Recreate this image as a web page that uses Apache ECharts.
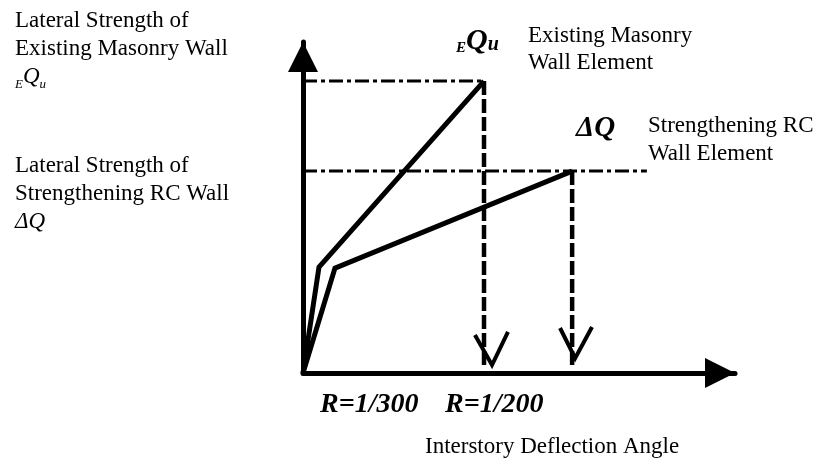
<!DOCTYPE html>
<html>
<head>
<meta charset="utf-8">
<script src="https://cdn.jsdelivr.net/npm/echarts@6/dist/echarts.min.js"></script>
<style>
html, body { margin: 0; padding: 0; background: #fff; }
#chart { width: 822px; height: 461px; }
</style>
</head>
<body>
<div id="chart"></div>
<script>
// curves: [drift, strength] in chart units (0..100)
var masonryCurve = [[0, 0], [3.7, 32.0], [41.9, 88.2]]
var rcCurve = [[0, 0], [7.4, 31.7], [62.3, 61.0]]
// strength levels: EQu and dQ
var strengthLevels = [88.2, 61.0]
var levelEnds = [41.9, 79.6]
// drift limits R=1/300, R=1/200
var driftLimits = [41.9, 62.3]
var limitBottoms = [1.5, 2.1]
// open arrow heads on the drift limit lines
var arrowHead1 = [[39.8, 11.5], [43.75, 2.4], [47.45, 12.4]]
var arrowHead2 = [[59.5, 13.6], [63.0, 4.5], [66.9, 13.9]]

var chart = echarts.init(document.getElementById('chart'))
var serif = 'Liberation Serif'

function lineSeries (data, width, type) {
  return {
    type: 'line',
    data: data,
    symbol: 'none',
    silent: true,
    animation: false,
    lineStyle: { color: '#000', width: width, type: type || 'solid', cap: 'butt', join: 'miter' }
  }
}

var series = []
// horizontal dash-dot levels
strengthLevels.forEach(function (v, i) {
  series.push(lineSeries([[0, v], [levelEnds[i], v]], 3, [14, 4, 4, 4]))
})
// vertical dashed lines at the drift limits
driftLimits.forEach(function (v, i) {
  series.push(lineSeries([[v, strengthLevels[i]], [v, limitBottoms[i]]], 4.5, [14, 4]))
})
series.push(lineSeries(masonryCurve, 5))
series.push(lineSeries(rcCurve, 5))
series.push(lineSeries(arrowHead1, 4))
series.push(lineSeries(arrowHead2, 4))

var axisCommon = {
  type: 'value',
  min: 0,
  max: 100,
  axisLabel: { show: false },
  axisTick: { show: false },
  splitLine: { show: false },
  axisLine: {
    show: true,
    onZero: false,
    symbol: ['none', 'triangle'],
    symbolSize: [30, 30],
    symbolOffset: [0, -15],
    lineStyle: { color: '#000', width: 5 }
  }
}

chart.setOption({
  backgroundColor: '#fff',
  animation: false,
  grid: { left: 303, right: 87, top: 42, bottom: 88 },
  xAxis: axisCommon,
  yAxis: axisCommon,
  series: series,
  graphic: [
    {
      type: 'text', left: 15, top: 7,
      style: {
        text: 'Lateral Strength of\nExisting Masonry Wall\n{s|E}{q|Q}{s|u}',
        font: '23px ' + serif, fill: '#000', lineHeight: 28,
        rich: {
          s: { font: 'italic 13px ' + serif, verticalAlign: 'bottom', padding: [9, 0, 0, 0] },
          q: { font: 'italic 23px ' + serif }
        }
      }
    },
    {
      type: 'text', left: 15, top: 152,
      style: {
        text: 'Lateral Strength of\nStrengthening RC Wall\n{i|\u0394Q}',
        font: '23px ' + serif, fill: '#000', lineHeight: 28,
        rich: { i: { font: 'italic 23px ' + serif } }
      }
    },
    {
      type: 'text', left: 456, top: 26,
      style: {
        text: '{s|E}{q|Q}{u|u}',
        fill: '#000',
        rich: {
          s: { font: 'bold italic 15px ' + serif, verticalAlign: 'bottom', padding: [12, 0, 0, 0] },
          q: { font: 'bold italic 30px ' + serif },
          u: { font: 'bold italic 20px ' + serif, padding: [8, 0, 0, 0] }
        }
      }
    },
    {
      type: 'text', left: 528, top: 22,
      style: { text: 'Existing Masonry\nWall Element', font: '23px ' + serif, fill: '#000', lineHeight: 27 }
    },
    {
      type: 'text', left: 576, top: 114,
      style: { text: '\u0394Q', font: 'bold italic 29px ' + serif, fill: '#000' }
    },
    {
      type: 'text', left: 648, top: 112,
      style: { text: 'Strengthening RC\nWall Element', font: '23px ' + serif, fill: '#000', lineHeight: 28 }
    },
    {
      type: 'text', left: 320, top: 391,
      style: { text: 'R=1/300', font: 'bold italic 28px ' + serif, fill: '#000' }
    },
    {
      type: 'text', left: 445, top: 391,
      style: { text: 'R=1/200', font: 'bold italic 28px ' + serif, fill: '#000' }
    },
    {
      type: 'text', left: 425, top: 435,
      style: { text: 'Interstory Deflection Angle', font: '23px ' + serif, fill: '#000' }
    }
  ]
})
</script>
</body>
</html>
